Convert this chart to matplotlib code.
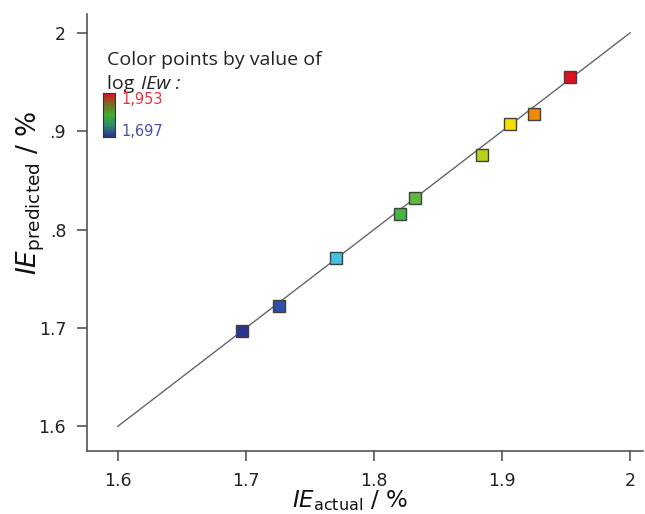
import matplotlib.pyplot as plt
import numpy as np
from matplotlib.colors import LinearSegmentedColormap, Normalize

# values
ie_actual = [1.697, 1.726, 1.770, 1.820, 1.832, 1.884, 1.906, 1.925, 1.953]
ie_predicted = [1.697, 1.722, 1.771, 1.816, 1.832, 1.876, 1.907, 1.917, 1.955]
log_iew_min = 1.697
log_iew_max = 1.953

xticks = [1.6, 1.7, 1.8, 1.9, 2.0]
xtick_labels = ["1.6", "1.7", "1.8", "1.9", "2"]
yticks = [1.6, 1.7, 1.8, 1.9, 2.0]
ytick_labels = ["1.6", "1.7", ".8", ".9", "2"]

cmap = LinearSegmentedColormap.from_list("iew", [
    (0.0, "#2b3590"), (0.11, "#2f4fae"), (0.28, "#45c0e2"),
    (0.48, "#48b444"), (0.73, "#b8cf1c"), (0.82, "#f7e000"),
    (0.89, "#f08a00"), (1.0, "#e0101f")])
legend_cmap = LinearSegmentedColormap.from_list(
    "leg", ["#2a2f95", "#2a8a70", "#40b030", "#7a6a20", "#e01020"])
norm = Normalize(log_iew_min, log_iew_max)

fig = plt.figure(figsize=(6.45, 5.14), dpi=100)
ax = fig.add_axes([0.1349, 0.1226, 0.862, 0.850])

ax.plot([1.6, 2.0], [1.6, 2.0], color="#666666", lw=1.0, zorder=1)
for xa, yp in zip(ie_actual, ie_predicted):
    ax.plot(xa, yp, marker="s", ms=8.3, color=cmap(norm(xa)),
            mec="#404040", mew=1.0, zorder=3)

ax.set_xlim(1.576, 2.01)
ax.set_ylim(1.575, 2.019)
ax.set_xticks(xticks)
ax.set_xticklabels(xtick_labels)
ax.set_yticks(yticks)
ax.set_yticklabels(ytick_labels)
for s in ["top", "right"]:
    ax.spines[s].set_visible(False)
for s in ["left", "bottom"]:
    ax.spines[s].set_color("#555555")
    ax.spines[s].set_linewidth(1.2)
ax.tick_params(direction="out", length=7, width=1.2, color="#555555",
               labelsize=12.5, labelcolor="#222222", pad=8)

ax.set_xlabel(r"$IE_{\mathrm{actual}}$ / %", fontsize=16.5, color="#111111")
ax.xaxis.set_label_coords(0.473, -0.086)
ax.set_ylabel(r"$IE_{\mathrm{predicted}}$ / %", fontsize=19, color="#111111")
ax.yaxis.set_label_coords(-0.072, 0.59)

# legend: colour scale box
fig.text(107 / 645, 1 - 60 / 514, "Color points by value of", fontsize=14,
         va="center", ha="left", color="#222222", family="Open Sans")
fig.text(107 / 645, 1 - 84 / 514, "log ", fontsize=14, va="center",
         ha="left", color="#222222", family="Open Sans")
fig.text(141 / 645, 1 - 84 / 514, "IEw :", fontsize=14, va="center",
         ha="left", color="#222222", family="Open Sans", style="italic")
cax = fig.add_axes([103 / 645, 1 - 137 / 514, 12 / 645, 44 / 514])
grad = np.linspace(1, 0, 100).reshape(-1, 1)
cax.imshow(grad, aspect="auto", cmap=legend_cmap)
cax.set_xticks([])
cax.set_yticks([])
for s in cax.spines.values():
    s.set_color("#333333")
fig.text(121 / 645, 1 - 100 / 514, "1,953", fontsize=10.5, va="center",
         color="#f03040")
fig.text(121 / 645, 1 - 131 / 514, "1,697", fontsize=10.5, va="center",
         color="#5050b0")

plt.savefig("out.png", dpi=100)
